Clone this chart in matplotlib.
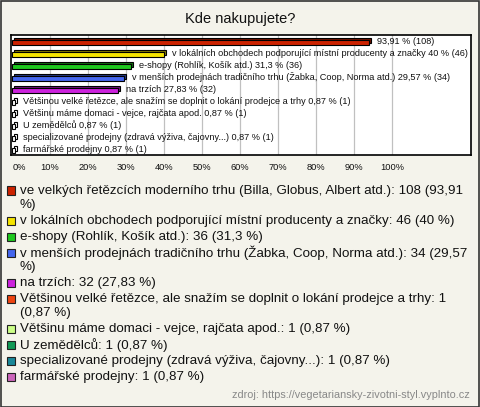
import matplotlib
matplotlib.use("Agg")
import matplotlib.pyplot as plt
from matplotlib.patches import Rectangle
import matplotlib.colors as mcolors

plt.rcParams['font.family'] = ['Liberation Sans', 'DejaVu Sans']

title = "Kde nakupujete?"
categories = [
    "ve velkých řetězcích moderního trhu (Billa, Globus, Albert atd.)",
    "v lokálních obchodech podporující místní producenty a značky",
    "e-shopy (Rohlík, Košík atd.)",
    "v menších prodejnách tradičního trhu (Žabka, Coop, Norma atd.)",
    "na trzích",
    "Většinou velké řetězce, ale snažím se doplnit o lokání prodejce a trhy",
    "Většinu máme domaci - vejce, rajčata apod.",
    "U zemědělců",
    "specializované prodejny (zdravá výživa, čajovny...)",
    "farmářské prodejny",
]
counts = [108, 46, 36, 34, 32, 1, 1, 1, 1, 1]
percents = [93.91, 40, 31.3, 29.57, 27.83, 0.87, 0.87, 0.87, 0.87, 0.87]
colors = ['#cc2200', '#f5e400', '#1ec81e', '#4466ee', '#cc22dd',
          '#ee4411', '#ccff88', '#119955', '#1a8899', '#cc66bb']
tick_values = [0, 10, 20, 30, 40, 50, 60, 70, 80, 90, 100]
tick_labels = ["0%", "10%", "20%", "30%", "40%", "50%", "60%", "70%", "80%", "90%", "100%"]
source = "zdroj: https://vegetariansky-zivotni-styl.vyplnto.cz"

W, H = 480, 407
DPI = 100
BG = '#f4f3eb'

def fmt(p):
    return f"{p:g}".replace('.', ',')

fig = plt.figure(figsize=(W / DPI, H / DPI), dpi=DPI, facecolor=BG)
fig.patches.append(Rectangle((0.5 / W, 0.5 / H), 1 - 1.5 / W, 1 - 1.5 / H,
                             transform=fig.transFigure, fill=False,
                             edgecolor='#333333', linewidth=1.2))

fig.text(0.5, 1 - 19 / H, title, ha='center', va='center', fontsize=10.5, color='#111111')

ax_l, ax_r, ax_t, ax_b = 11, 471, 35, 155
ax = fig.add_axes([ax_l / W, 1 - ax_b / H, (ax_r - ax_l) / W, (ax_b - ax_t) / H])
ax.set_facecolor('white')
for s in ax.spines.values():
    s.set_linewidth(1.2)
    s.set_color('black')
xmin, xmax = -0.3, 120.8
ax.set_xlim(xmin, xmax)
n = len(categories)
ax.set_ylim(n - 0.5, -0.5)
ax.set_yticks([])
ax.set_xticks(tick_values)
ax.set_xticklabels(tick_labels, fontsize=6.7, color='#111111')
ax.tick_params(axis='x', length=0, pad=6)
ax.get_xticklabels()[0].set_ha('left')
for v in tick_values[1:]:
    ax.axvline(v, color='#c0c0c0', linewidth=0.9, zorder=0)

px_x = (xmax - xmin) / (ax_r - ax_l)
px_y = n / (ax_b - ax_t)
bar_h = 5 * px_y
dx, dy = 2 * px_x, -2 * px_y

fig.canvas.draw()
renderer = fig.canvas.get_renderer()

for i, (cat, p, c, col) in enumerate(zip(categories, percents, counts, colors)):
    dark = tuple(v * 0.55 for v in mcolors.to_rgb(col))
    y0 = i - bar_h / 2 + 1.0 * px_y
    back = Rectangle((xmin + 0.3 + dx, y0 + dy), p, bar_h, facecolor=dark,
                     edgecolor='black', linewidth=0.8, zorder=3)
    front = Rectangle((xmin + 0.3, y0), p, bar_h, facecolor=col,
                      edgecolor='black', linewidth=0.8, zorder=4)
    if p < 2:
        back.set_facecolor('white'); front.set_facecolor('white')
    ax.add_patch(back)
    ax.add_patch(front)
    lx = p + 8 * px_x
    full = f"{cat} {fmt(p)} % ({c})"
    t = ax.text(lx, i, full, ha='left', va='center', fontsize=6.6, color='#111111', zorder=5)
    bb = t.get_window_extent(renderer)
    ax_bb = ax.get_window_extent(renderer)
    if bb.x1 > ax_bb.x1:
        t.set_text(f"{fmt(p)} % ({c})")

def wrap(text, maxw, fs):
    words = text.split(' ')
    lines, cur = [], ''
    for w in words:
        trial = w if not cur else cur + ' ' + w
        tt = fig.text(0, 0, trial, fontsize=fs)
        wpx = tt.get_window_extent(renderer).width
        tt.remove()
        if wpx > maxw and cur:
            lines.append(cur)
            cur = w
        else:
            cur = trial
    lines.append(cur)
    return lines

leg_fs = 9.6
text_x = 20
y = 191
line_h = 14
for cat, p, c, col in zip(categories, percents, counts, colors):
    label = f"{cat}: {c} ({fmt(p)} %)"
    lines = wrap(label, 470 - text_x, leg_fs)
    fig.patches.append(Rectangle((7 / W, 1 - (y + 3.5) / H), 8 / W, 8 / H,
                                 transform=fig.transFigure, facecolor=col,
                                 edgecolor='#222222', linewidth=0.8))
    for k, ln in enumerate(lines):
        fig.text(text_x / W, 1 - (y + k * line_h) / H, ln, ha='left', va='center',
                 fontsize=leg_fs, color='#111111')
    y += len(lines) * line_h + 2

fig.text(470 / W, 1 - 395 / H, source, ha='right', va='center', fontsize=7.8, color='#888888')

fig.savefig("out.png", dpi=DPI, facecolor=BG)
